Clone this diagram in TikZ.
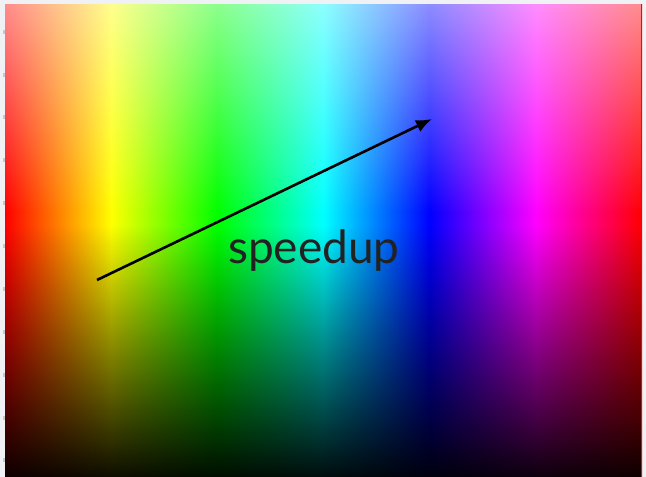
\documentclass[tikz,border=0pt]{standalone}
\usepackage{fontspec}
\setmainfont{Lato}
\usetikzlibrary{arrows.meta,fadings}
\definecolor{bg}{HTML}{F0F1F4}
\definecolor{tickc}{HTML}{C8C8CC}
\definecolor{txt}{HTML}{222222}
\pgfdeclarehorizontalshading{hues}{100bp}{color(0bp)=(red); color(25bp)=(red); color(33.333bp)=(yellow); color(41.667bp)=(green); color(50bp)=(cyan); color(58.333bp)=(blue); color(66.667bp)=(magenta); color(75bp)=(red); color(100bp)=(red)}
\tikzfading[name=whitefade, top color=transparent!45, bottom color=transparent!100]
\tikzfading[name=blackfade, top color=transparent!100, bottom color=transparent!5]
\begin{document}
\begin{tikzpicture}[x=1pt,y=-1pt,
  tickmark/.style={fill=tickc},
  label/.style={font=\fontsize{46}{50}\selectfont, text=txt, inner sep=0pt, anchor=base},
  arr/.style={line width=2.6pt, -{Latex[length=16pt,width=13pt]}}]
\useasboundingbox (0,0) rectangle (646,477);
\fill[bg] (0,0) rectangle (646,477);
\foreach \yy in {32,74.5,117,160,203,246,289,332,375,417.5,460}
  \fill[tickmark] (2.5,\yy-2) rectangle (5,\yy+2);
\shade[shading=hues] (5,4) rectangle (642,477);
\fill[white, path fading=whitefade] (5,4) rectangle (642,212);
\fill[black, path fading=blackfade] (5,225) rectangle (642,477);
\node[label] (t) at (314,263) {speedup};
\coordinate (a) at (97,280);
\coordinate (b) at (432,119);
\draw[arr] (a) -- (b);
\end{tikzpicture}
\end{document}
